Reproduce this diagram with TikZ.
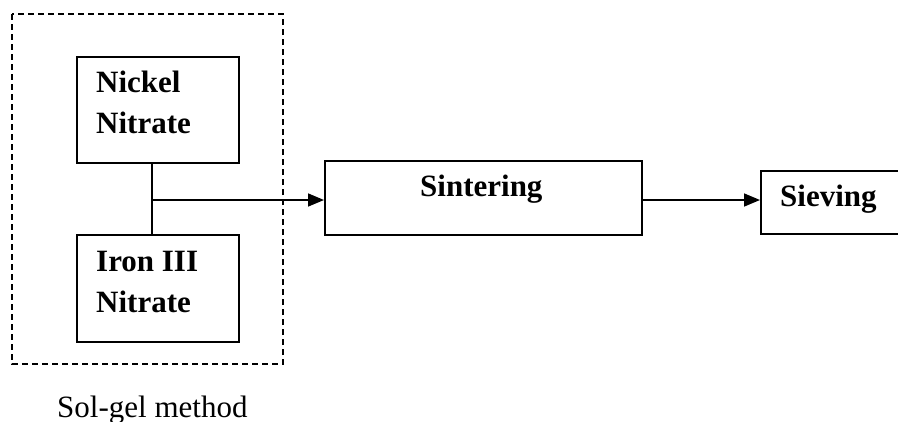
\documentclass[tikz,border=0pt]{standalone}
\usepackage{fontspec}
\setmainfont{Liberation Serif}
\usetikzlibrary{arrows.meta}
\begin{document}
\begin{tikzpicture}[x=1pt,y=-1pt,
  box/.style={draw,line width=1.6pt,inner sep=0pt,anchor=north west},
  lbl/.style={anchor=base west,inner sep=0pt,font=\fontsize{31}{31}\selectfont\bfseries},
  link/.style={line width=1.6pt},
  flow/.style={line width=1.6pt,-{Triangle[length=16pt,width=13pt]}},
  groupbox/.style={draw,line width=1.4pt,dash pattern=on 6pt off 4pt}]
  \useasboundingbox (0,0) rectangle (898,421);
  \begin{scope}
  \clip (0,0) rectangle (898,421);
  % sol-gel group
  \draw[groupbox] (12,14) rectangle (283,364);
  \node[box,minimum width=162pt,minimum height=106pt] (ni) at (76,56) {};
  \node[box,minimum width=162pt,minimum height=107pt] (fe) at (76,234) {};
  \node[lbl] (niA) at (96,92) {Nickel};
  \node[lbl] (niB) at (96,133) {Nitrate};
  \node[lbl] (feA) at (96,271) {Iron III};
  \node[lbl] (feB) at (96,312) {Nitrate};
  % process steps
  \node[box,minimum width=317pt,minimum height=74pt] (sin) at (324,160) {};
  \node[lbl] (sinT) at (420,196) {Sintering};
  \node[box,minimum width=160pt,minimum height=63pt] (sie) at (760,170) {};
  \node[lbl] (sieT) at (780,206) {Sieving};
  % connectors
  \coordinate (j) at (152,200);
  \draw[link] (ni.south -| j) -- (fe.north -| j);
  \draw[flow] (j) -- (sin.west |- j);
  \draw[flow] (sin.east |- j) -- (sie.west |- j);
  \node[anchor=base west,inner sep=0pt,font=\fontsize{31}{31}\selectfont] (cap) at (57,417) {Sol-gel method};
  \end{scope}
\end{tikzpicture}
\end{document}
